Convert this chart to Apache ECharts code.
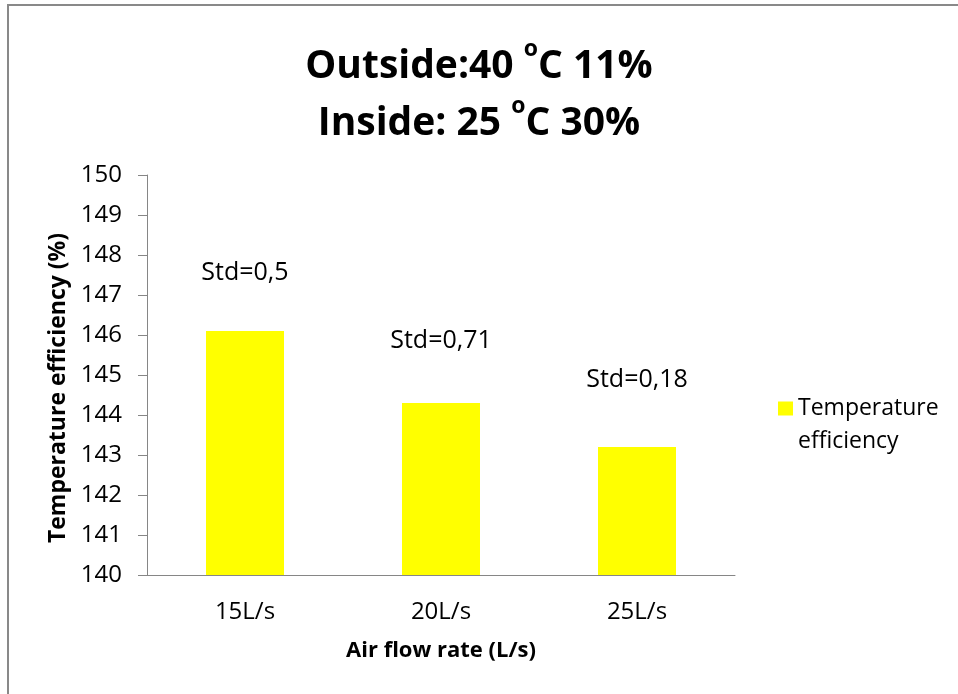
<!DOCTYPE html>
<html>
<head>
<meta charset="utf-8">
<script src="https://cdn.jsdelivr.net/npm/echarts@6/dist/echarts.min.js"></script>
<style>
  html, body { margin: 0; padding: 0; background: #ffffff; }
  #chart { width: 958px; height: 694px; }
</style>
</head>
<body>
<div id="chart"></div>
<script>
// 数据
const categories = ['15L/s', '20L/s', '25L/s'];
const efficiency = [146.1, 144.3, 143.2];
const stdLabels = ['Std=0,5', 'Std=0,71', 'Std=0,18'];
const seriesName = 'Temperature efficiency';
const yMin = 140;
const yMax = 150;
const yStep = 1;

// 样式
const font = '"Open Sans", sans-serif';
const axisGray = '#868686';
const barColor = '#ffff00';
// distance of each Std label above its bar
const labelGaps = [46, 50, 55];

const mychart = echarts.init(document.getElementById('chart'));

const option = {
  backgroundColor: '#ffffff',
  animation: false,
  textStyle: { fontFamily: font },
  graphic: [
    {
      type: 'rect',
      shape: { x: 8, y: 5, width: 1000, height: 800 },
      style: { fill: 'none', stroke: '#898989', lineWidth: 2 },
      silent: true,
    },
  ],
  title: {
    text: '{a|Outside:40 }{sup|o}{a|C 11%}\n{a|Inside: 25 }{sup|o}{a|C 30%}',
    left: 'center',
    top: 33,
    textStyle: {
      rich: {
        a: {
          fontFamily: font,
          fontSize: 39,
          fontWeight: 'bold',
          color: '#000000',
          lineHeight: 57,
        },
        sup: {
          fontFamily: font,
          fontSize: 23,
          fontWeight: 'bold',
          color: '#000000',
          lineHeight: 42,
          verticalAlign: 'top',
        },
      },
    },
  },
  legend: {
    data: [seriesName],
    left: 778,
    top: 359,
    padding: 0,
    itemWidth: 15,
    itemHeight: 14,
    icon: 'rect',
    // blank first line keeps the icon level with "Temperature"
    formatter: () => ' \nTemperature\nefficiency',
    textStyle: {
      fontFamily: font,
      fontSize: 23,
      color: '#000000',
      lineHeight: 33,
    },
  },
  grid: {
    left: 147,
    top: 175,
    right: 223,
    bottom: 119,
    containLabel: false,
  },
  xAxis: {
    type: 'category',
    data: categories,
    name: 'Air flow rate (L/s)',
    nameLocation: 'middle',
    nameGap: 65,
    nameTextStyle: {
      fontFamily: font,
      fontSize: 22,
      fontWeight: 'bold',
      color: '#000000',
    },
    axisLine: { show: true, lineStyle: { color: axisGray, width: 1 } },
    axisTick: { show: false },
    axisLabel: {
      margin: 25,
      fontFamily: font,
      fontSize: 24,
      color: '#000000',
    },
  },
  yAxis: {
    type: 'value',
    min: yMin,
    max: yMax,
    interval: yStep,
    name: 'Temperature efficiency (%)',
    nameLocation: 'middle',
    nameGap: 71,
    nameTextStyle: {
      fontFamily: font,
      fontSize: 23,
      fontWeight: 'bold',
      color: '#000000',
      padding: [0, 26, 0, 0],
    },
    axisLine: { show: true, lineStyle: { color: axisGray, width: 1 } },
    axisTick: { show: true, length: 9, lineStyle: { color: axisGray } },
    splitLine: { show: false },
    axisLabel: {
      margin: 25,
      fontFamily: font,
      fontSize: 24,
      color: '#000000',
    },
  },
  series: [
    {
      name: seriesName,
      type: 'bar',
      barWidth: 78,
      itemStyle: { color: barColor },
      data: efficiency.map((v, i) => ({
        value: v,
        label: {
          show: true,
          position: 'top',
          distance: labelGaps[i],
          formatter: stdLabels[i],
          fontFamily: font,
          fontSize: 25,
          color: '#000000',
        },
      })),
    },
  ],
};

mychart.setOption(option);

window.addEventListener('resize', () => {
  mychart.resize();
});
</script>
</body>
</html>
